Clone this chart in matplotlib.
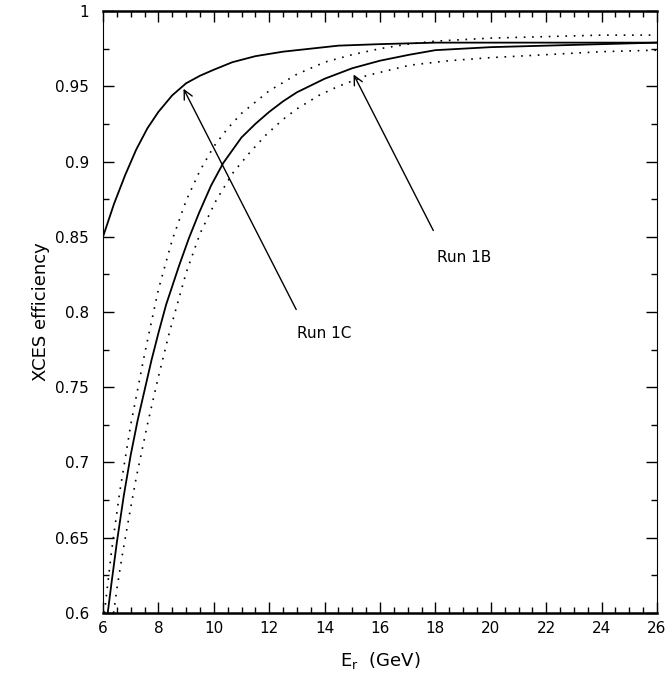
import numpy as np
import matplotlib
matplotlib.use("Agg")
import matplotlib.pyplot as plt
from matplotlib.ticker import MultipleLocator

# ------------------------
# Values
# ------------------------

# Run 1C efficiency curve (solid, upper)
run1c_e = [6.0, 6.4, 6.8, 7.2, 7.6, 8.0, 8.5, 9.0, 9.5, 10.0, 10.67, 11.5, 12.5, 13.5, 14.5, 16.0, 18.0, 20.0, 23.0, 26.0]
run1c_eff = [0.850, 0.872, 0.891, 0.908, 0.922, 0.933, 0.944, 0.952, 0.957, 0.961, 0.966, 0.970, 0.973, 0.975,
             0.977, 0.978, 0.979, 0.979, 0.979, 0.979]

# Run 1B efficiency curve (solid, lower)
run1b_e = [6.17, 6.3, 6.5, 6.75, 7.0, 7.25, 7.55, 7.75, 8.0, 8.28, 8.75,
           9.1, 9.47, 9.9, 10.34, 11.0, 11.5, 12.0, 12.5, 13.0, 14.0, 15.0, 16.0, 17.07, 18.0, 20.0, 22.0, 24.0, 26.0]
run1b_eff = [0.600, 0.619, 0.647, 0.678, 0.705, 0.728, 0.752, 0.768, 0.786, 0.805, 0.831,
             0.849, 0.866, 0.884, 0.899, 0.916, 0.925, 0.933, 0.940, 0.946, 0.955, 0.962, 0.967, 0.971, 0.974,
             0.976, 0.977, 0.978, 0.979]

# Run 1B upper band (dotted)
band_hi_e = [6.05, 6.3, 6.6, 7.0, 7.5, 8.0, 8.5, 9.0, 9.5, 10.0, 10.5, 11.0, 12.0, 13.0,
             14.0, 15.0, 16.0, 17.0, 18.0, 20.0, 22.0, 24.0, 26.0]
band_hi_eff = [0.600, 0.640, 0.680, 0.725, 0.772, 0.815, 0.848, 0.874, 0.894, 0.910, 0.922, 0.932, 0.947, 0.958,
               0.966, 0.971, 0.975, 0.978, 0.980, 0.982, 0.983, 0.984, 0.984]

# Run 1B lower band (dotted)
band_lo_e = [6.38, 6.5, 6.69, 6.94, 7.2, 7.6, 8.0, 8.39, 9.0, 9.5, 10.08, 10.67,
             11.3, 11.9, 12.5, 13.0, 13.8, 14.5, 15.5, 17.07, 18.5, 19.96, 22.0, 24.0, 26.0]
band_lo_eff = [0.600, 0.616, 0.638, 0.664, 0.690, 0.725, 0.757, 0.786, 0.826, 0.852, 0.874, 0.892,
               0.906, 0.918, 0.928, 0.935, 0.944, 0.950, 0.957, 0.964, 0.967, 0.969, 0.971, 0.973, 0.974]

# ------------------------
# Figure
# ------------------------

fig = plt.figure(figsize=(6.72, 6.81), dpi=100)
ax = fig.add_axes([0.1533, 0.0999, 0.8244, 0.8839])

ax.plot(run1c_e, run1c_eff, color="black", lw=1.3)
ax.plot(run1b_e, run1b_eff, color="black", lw=1.3)
ax.plot(band_hi_e, band_hi_eff, color="black", lw=1.2, linestyle=(0, (1, 4)))
ax.plot(band_lo_e, band_lo_eff, color="black", lw=1.2, linestyle=(0, (1, 4)))

# labels with arrows
ax.annotate("", xy=(8.86, 0.950), xytext=(13.02, 0.800),
            arrowprops=dict(arrowstyle="->", color="black", lw=1.0,
                            mutation_scale=16))
ax.annotate("", xy=(15.0, 0.9595), xytext=(17.97, 0.8525),
            arrowprops=dict(arrowstyle="->", color="black", lw=1.0,
                            mutation_scale=16))
ax.text(13.0, 0.786, "Run 1C", fontsize=11, va="center", ha="left")
ax.text(18.04, 0.836, "Run 1B", fontsize=11, va="center", ha="left")

ax.set_xlim(6, 26)
ax.set_ylim(0.6, 1.0)
ax.xaxis.set_major_locator(MultipleLocator(2))
ax.xaxis.set_minor_locator(MultipleLocator(0.5))
ax.yaxis.set_major_locator(MultipleLocator(0.05))
ax.yaxis.set_minor_locator(MultipleLocator(0.025))
ax.yaxis.set_major_formatter(plt.FuncFormatter(lambda v, p: f"{v:g}"))

ax.tick_params(which="both", direction="in", top=True, right=True, labelsize=11)
ax.tick_params(which="major", length=8, width=1.0)
ax.tick_params(which="minor", length=4, width=1.0)
ax.tick_params(axis="y", pad=10)
ax.tick_params(axis="x", pad=6)

for side in ["top", "bottom"]:
    ax.spines[side].set_linewidth(1.8)
for side in ["left", "right"]:
    ax.spines[side].set_linewidth(0.8)

ax.set_xlabel(r"E$_\mathregular{r}$  (GeV)", fontsize=13, labelpad=10)
ax.set_ylabel("XCES efficiency", fontsize=13, labelpad=4)

fig.savefig("out.png", dpi=100)
